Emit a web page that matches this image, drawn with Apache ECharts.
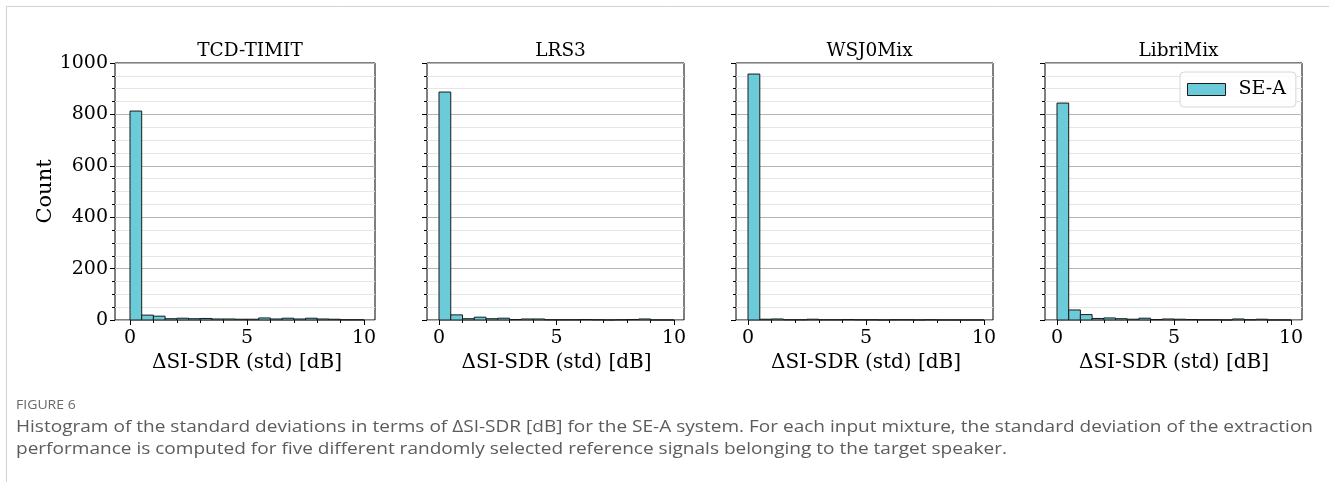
<!DOCTYPE html>
<html>
<head>
<meta charset="utf-8">
<script src="https://cdn.jsdelivr.net/npm/echarts@6/dist/echarts.min.js"></script>
<style>
  html, body { margin: 0; padding: 0; background: #fff; }
  #main { width: 1329px; height: 482px; }
</style>
</head>
<body>
<div id="main"></div>
<script>
// panels
const datasets = ['TCD-TIMIT', 'LRS3', 'WSJ0Mix', 'LibriMix'];
const seriesName = 'SE-A';
// histogram bin edges (0.5 dB bins)
const binEdges = [0, 0.5, 1, 1.5, 2, 2.5, 3, 3.5, 4, 4.5, 5, 5.5, 6, 6.5, 7, 7.5, 8, 8.5, 9, 9.5, 10];
// counts per bin
const countsTcd = [813, 19, 15, 5, 7, 5, 6, 4, 4, 3, 3, 8, 4, 7, 4, 7, 4, 3, 1, 1];
const countsLrs = [887, 20, 5, 11, 5, 7, 2, 4, 4, 1, 1, 1, 2, 1, 0, 1, 2, 4, 0, 0];
const countsWsj = [957, 3, 4, 1, 1, 3, 1, 1, 2, 1, 1, 0, 1, 1, 0, 1, 0, 0, 0, 0];
const countsLibri = [844, 39, 21, 6, 8, 5, 3, 7, 2, 4, 3, 2, 1, 1, 0, 4, 1, 3, 0, 0];
const allCounts = [countsTcd, countsLrs, countsWsj, countsLibri];
const yTicks = [0, 200, 400, 600, 800, 1000];
const xTicks = [0, 5, 10];

const barColor = '#6ccbd8';
const serif = 'DejaVu Serif';

// frame boxes [left, right] and where x=0 / x=10 fall, in px
const frames = [[115, 375], [427, 684], [736, 993], [1045, 1302]];
const dataX = [[130, 364], [439, 674], [748, 984], [1057, 1291]];
const plotTop = 63, plotBottom = 320;

const chart = echarts.init(document.getElementById('main'));

const grids = [], xAxes = [], yAxes = [], series = [], titles = [];

frames.forEach(function (f, i) {
  // frame grid: box, y axis, gridlines
  grids.push({ left: f[0], top: plotTop, width: f[1] - f[0], height: plotBottom - plotTop,
    show: true, borderColor: '#000', borderWidth: 1, backgroundColor: 'transparent' });
  // data grid: x from 0 to 10
  grids.push({ left: dataX[i][0], top: plotTop, width: dataX[i][1] - dataX[i][0], height: plotBottom - plotTop });

  xAxes.push({ gridIndex: 2 * i, type: 'value', show: false, min: 0, max: 1 });
  xAxes.push({
    gridIndex: 2 * i + 1, type: 'value', min: xTicks[0], max: xTicks[xTicks.length - 1], interval: 5,
    axisLine: { show: false },
    axisTick: { show: true, length: 5, inside: false, lineStyle: { color: '#000' } },
    minorTick: { show: true, splitNumber: 5, length: 3, lineStyle: { color: '#000' } },
    splitLine: { show: false },
    axisLabel: { color: '#000', fontFamily: serif, fontSize: 19, margin: 9 },
    name: 'ΔSI-SDR (std) [dB]', nameLocation: 'middle', nameGap: 33,
    nameTextStyle: { color: '#000', fontFamily: serif, fontSize: 20 }
  });

  yAxes.push({
    gridIndex: 2 * i, type: 'value', min: yTicks[0], max: yTicks[yTicks.length - 1], interval: 200,
    axisLine: { show: false },
    axisTick: { show: true, length: 5, lineStyle: { color: '#000' } },
    minorTick: { show: true, splitNumber: 4, length: 3, lineStyle: { color: '#000' } },
    splitLine: { show: true, lineStyle: { color: '#b4b4b4', width: 1.2 } },
    minorSplitLine: { show: true, lineStyle: { color: '#e6e6e6', width: 1 } },
    axisLabel: { show: i === 0, color: '#000', fontFamily: serif, fontSize: 19, margin: 7,
      formatter: function (v) { return String(v); } },
    name: i === 0 ? 'Count' : '', nameLocation: 'middle', nameGap: 55,
    nameTextStyle: { color: '#000', fontFamily: serif, fontSize: 21 }
  });
  yAxes.push({ gridIndex: 2 * i + 1, type: 'value', min: 0, max: 1000, show: false });

  const data = allCounts[i].map(function (c, k) { return [binEdges[k], binEdges[k + 1], c]; });
  series.push({
    name: seriesName, type: 'custom', xAxisIndex: 2 * i + 1, yAxisIndex: 2 * i + 1,
    itemStyle: { color: barColor, borderColor: '#1a1a1a', borderWidth: 1 },
    encode: { x: [0, 1], y: 2 },
    data: data,
    renderItem: function (params, api) {
      const p0 = api.coord([api.value(0), api.value(2)]);
      const p1 = api.coord([api.value(1), 0]);
      return {
        type: 'rect',
        shape: { x: p0[0], y: p0[1], width: p1[0] - p0[0], height: p1[1] - p0[1] },
        style: { fill: barColor, stroke: '#1a1a1a', lineWidth: 1 }
      };
    }
  });

  titles.push({
    text: datasets[i], left: (f[0] + f[1]) / 2, top: 37, textAlign: 'center',
    textStyle: { color: '#000', fontFamily: serif, fontSize: 18.5, fontWeight: 'normal' }
  });
});

chart.setOption({
  animation: false,
  title: titles,
  grid: grids,
  xAxis: xAxes,
  yAxis: yAxes,
  series: series,
  legend: {
    data: [{ name: seriesName, icon: 'rect', itemStyle: { color: barColor, borderColor: '#1a1a1a', borderWidth: 1 } }],
    left: 1180, top: 72,
    itemWidth: 38, itemHeight: 12, itemGap: 10,
    padding: [8, 10, 8, 7],
    backgroundColor: 'rgba(255,255,255,0.85)',
    borderColor: '#d6d6d6', borderWidth: 1, borderRadius: 4,
    textStyle: { color: '#000', fontFamily: serif, fontSize: 19, padding: [0, 0, 0, 8] }
  },
  graphic: [
    { type: 'line', shape: { x1: 6, y1: 6.5, x2: 1329, y2: 6.5 }, style: { stroke: '#d2d2d2', lineWidth: 1 } },
    { type: 'line', shape: { x1: 6.5, y1: 6, x2: 6.5, y2: 482 }, style: { stroke: '#d2d2d2', lineWidth: 1 } },
    { type: 'text', x: 16, y: 405, scaleX: 1.08,
      style: { text: 'FIGURE 6', fill: '#6a6a6a', font: '13px "Open Sans"', verticalAlign: 'middle' } },
    { type: 'text', x: 16, y: 427, scaleX: 1.12,
      style: { text: 'Histogram of the standard deviations in terms of ΔSI-SDR [dB] for the SE-A system. For each input mixture, the standard deviation of the extraction',
        fill: '#5c5c5c', font: '17px "Open Sans"', verticalAlign: 'middle' } },
    { type: 'text', x: 16, y: 449, scaleX: 1.12,
      style: { text: 'performance is computed for five different randomly selected reference signals belonging to the target speaker.',
        fill: '#5c5c5c', font: '17px "Open Sans"', verticalAlign: 'middle' } }
  ]
});
</script>
</body>
</html>
